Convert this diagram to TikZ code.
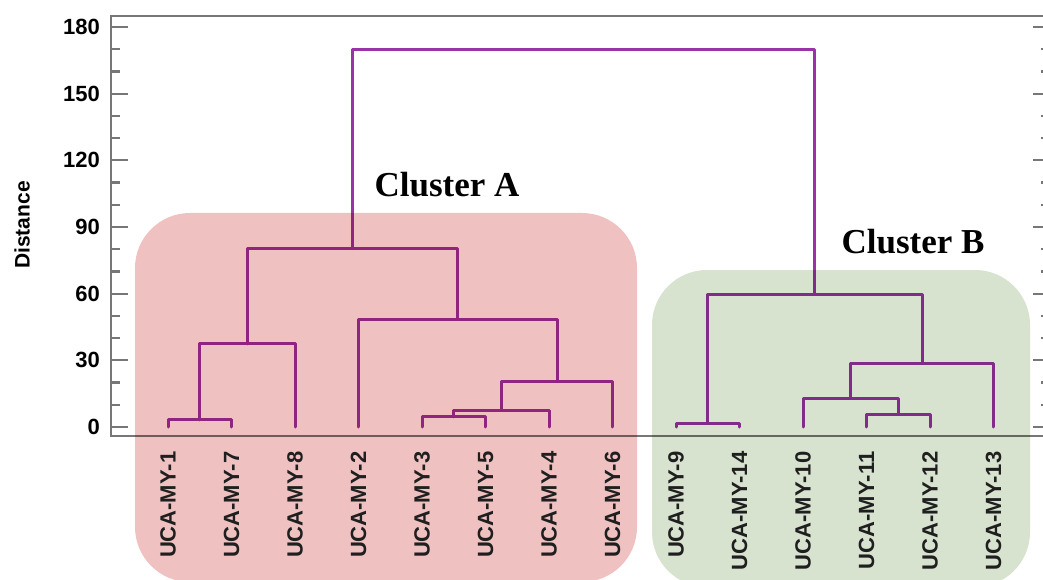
\documentclass[tikz,border=0pt]{standalone}
\usepackage{fontspec}
\setmainfont{Liberation Serif}
\setsansfont{Liberation Sans}
\usepackage{xcolor}
\usepackage{tikz}
\usetikzlibrary{calc}
\definecolor{dendroPurple}{HTML}{9A32A8}
\definecolor{frameGray}{HTML}{777777}
\definecolor{clusterPink}{HTML}{F0C1C1}
\definecolor{clusterGreen}{HTML}{D7E2CF}

\begin{document}
\begin{tikzpicture}[x=1pt,y=1pt,
  branch/.style={dendroPurple,line width=3pt,line join=round,line cap=round},
  frame/.style={frameGray,line width=2.3pt},
  ticklab/.style={font=\sffamily\bfseries\fontsize{22}{25}\selectfont,anchor=east,inner sep=0pt},
  leaflab/.style={font=\sffamily\bfseries\fontsize{22}{25}\selectfont,text=black!88,rotate=90,anchor=east,inner sep=0pt},
  clusterlab/.style={font=\rmfamily\bfseries\fontsize{35}{40}\selectfont,inner sep=0pt},
  zone/.style={rounded corners=55pt}]
\useasboundingbox (0,0) rectangle (1043,579);
% --- frame ---
\draw[frame] (111,143) rectangle (1050,563);
\node[font=\sffamily\bfseries\fontsize{21}{24}\selectfont,rotate=90] (ylab) at (22,354) {Distance};
% --- dendrogram, y in distance units ---
\begin{scope}[yshift=152pt,y=2.2222pt]
  \foreach \d in {0,10,...,180} {
    \draw[frame] (111,\d) -- ++(9,0);
    \draw[frame] (1050,\d) -- ++(-9,0);
  }
  \foreach \d in {0,30,...,180} {
    \draw[frame] (111,\d) -- ++(17,0);
    \draw[frame] (1050,\d) -- ++(-17,0);
    \node[ticklab] (y\d) at (100,\d) {\d};
  }
  \foreach \lab [count=\i] in {1,7,8,2,3,5,4,6,9,14,10,11,12,13}
    \coordinate (l\lab) at ({168+63.5*(\i-1)},0);
  % joins
  \coordinate (j17) at (199.75,3.2);
  \coordinate (j178) at (247.4,37.4);
  \coordinate (j35) at (453.75,4.6);
  \coordinate (j354) at (501.4,7.6);
  \coordinate (j3546) at (557,20.4);
  \coordinate (j2) at (457.7,48.4);
  \coordinate (jA) at (352.6,80.3);
  \coordinate (j914) at (707.75,1.6);
  \coordinate (j1112) at (898.25,5.8);
  \coordinate (j10) at (850.6,12.9);
  \coordinate (j13) at (922,28.6);
  \coordinate (jB) at (814.9,59.7);
  \coordinate (jAB) at (583.7,169.7);
  \draw[branch] (l1) |- (j17) -| (l7);
  \draw[branch] (j17) |- (j178) -| (l8);
  \draw[branch] (l3) |- (j35) -| (l5);
  \draw[branch] (j35) |- (j354) -| (l4);
  \draw[branch] (j354) |- (j3546) -| (l6);
  \draw[branch] (l2) |- (j2) -| (j3546);
  \draw[branch] (j178) |- (jA) -| (j2);
  \draw[branch] (l9) |- (j914) -| (l14);
  \draw[branch] (l11) |- (j1112) -| (l12);
  \draw[branch] (l10) |- (j10) -| (j1112);
  \draw[branch] (j10) |- (j13) -| (l13);
  \draw[branch] (j914) |- (jB) -| (j13);
  \draw[branch] (jA) |- (jAB) -| (jB);
\end{scope}
% --- cluster zones ---
\begin{scope}[blend mode=multiply]
  \fill[clusterPink,zone] (135,-3) rectangle (637,366);
  \fill[clusterGreen,zone] (652,-8) rectangle (1030,309);
\end{scope}
\begin{scope}[yshift=152pt,y=2.2222pt]
  \foreach \lab [count=\i] in {1,7,8,2,3,5,4,6,9,14,10,11,12,13}
    \node[leaflab] (t\lab) at ({168+63.5*(\i-1)},-11) {UCA-MY-\lab};
\end{scope}
\node[clusterlab] (cA) at (447,394) {Cluster A};
\node[clusterlab] (cB) at (913,337) {Cluster B};
\end{tikzpicture}
\end{document}
